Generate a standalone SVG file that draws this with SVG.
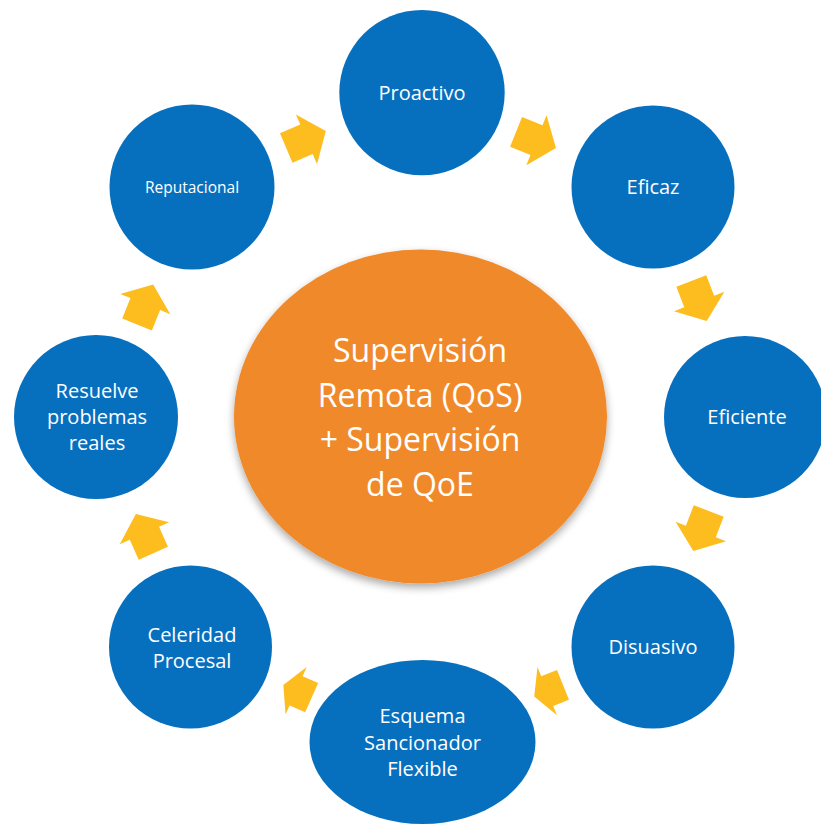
<svg xmlns="http://www.w3.org/2000/svg" width="821" height="824" viewBox="0 0 821 824">
  <defs>
    <style>
      .node { fill: #0770BE; }
      .center { fill: #F0892A; }
      .arrow { fill: #FDBD1E; }
      .lbl { font-family: "Open Sans", "Liberation Sans", sans-serif; font-size: 20px; fill: #FFFFFF; text-anchor: middle; }
      .small { font-size: 15.5px; }
      .big { font-size: 32px; }
    </style>
    <path id="arrowLong" d="M-21.5,-16 H0.5 V-27 L21.5,0 L0.5,27 V16 H-21.5 Z"/>
    <path id="arrowShort" d="M-15.5,-16 H1.5 V-26 L15.5,0 L1.5,26 V16 H-15.5 Z"/>
    <filter id="shadow" x="-10%" y="-10%" width="120%" height="125%">
      <feGaussianBlur in="SourceAlpha" stdDeviation="4"/>
      <feOffset dx="0" dy="4" result="b"/>
      <feComponentTransfer><feFuncA type="linear" slope="0.35"/></feComponentTransfer>
      <feMerge><feMergeNode/><feMergeNode in="SourceGraphic"/></feMerge>
    </filter>
  </defs>
  <rect width="821" height="824" fill="#FFFFFF"/>

  <g id="connectors" class="arrow">
    <use href="#arrowLong" transform="translate(306,139.5) rotate(-23)"/>
    <use href="#arrowLong" transform="translate(536,140) rotate(22)"/>
    <use href="#arrowLong" transform="translate(699,301) rotate(69)"/>
    <use href="#arrowLong" transform="translate(701,531) rotate(111)"/>
    <use href="#arrowShort" transform="translate(548.6,690.6) rotate(158)"/>
    <use href="#arrowShort" transform="translate(297.5,691.4) rotate(204)"/>
    <use href="#arrowLong" transform="translate(144.6,533.7) rotate(246)"/>
    <use href="#arrowLong" transform="translate(145.1,304.5) rotate(-68)"/>
  </g>

  <g id="center">
    <ellipse class="center" cx="420.5" cy="416.5" rx="186.5" ry="167" filter="url(#shadow)"/>
    <text class="lbl big" x="420" y="362">Supervisión</text>
    <text class="lbl big" x="420" y="407">Remota (QoS)</text>
    <text class="lbl big" x="420" y="451">+ Supervisión</text>
    <text class="lbl big" x="420" y="496">de QoE</text>
  </g>

  <g id="proactivo">
    <circle class="node" cx="422" cy="92.6" r="82.7"/>
    <text class="lbl" x="422" y="100">Proactivo</text>
  </g>
  <g id="eficaz">
    <circle class="node" cx="653" cy="187" r="81.5"/>
    <text class="lbl" x="653" y="194">Eficaz</text>
  </g>
  <g id="eficiente">
    <circle class="node" cx="745" cy="417" r="81"/>
    <text class="lbl" x="747" y="424">Eficiente</text>
  </g>
  <g id="disuasivo">
    <circle class="node" cx="653" cy="647" r="81.5"/>
    <text class="lbl" x="653" y="654">Disuasivo</text>
  </g>
  <g id="esquema">
    <ellipse class="node" cx="422.5" cy="742" rx="113" ry="82"/>
    <text class="lbl" x="422.5" y="723">Esquema</text>
    <text class="lbl" x="422.5" y="750">Sancionador</text>
    <text class="lbl" x="422.5" y="776">Flexible</text>
  </g>
  <g id="celeridad">
    <circle class="node" cx="190.5" cy="647" r="81.5"/>
    <text class="lbl" x="192" y="642">Celeridad</text>
    <text class="lbl" x="192" y="668">Procesal</text>
  </g>
  <g id="resuelve">
    <circle class="node" cx="96" cy="417" r="82"/>
    <text class="lbl" x="97" y="398">Resuelve</text>
    <text class="lbl" x="97" y="424">problemas</text>
    <text class="lbl" x="97" y="450">reales</text>
  </g>
  <g id="reputacional">
    <circle class="node" cx="192" cy="187" r="82.5"/>
    <text class="lbl small" x="192" y="192.5">Reputacional</text>
  </g>
</svg>
